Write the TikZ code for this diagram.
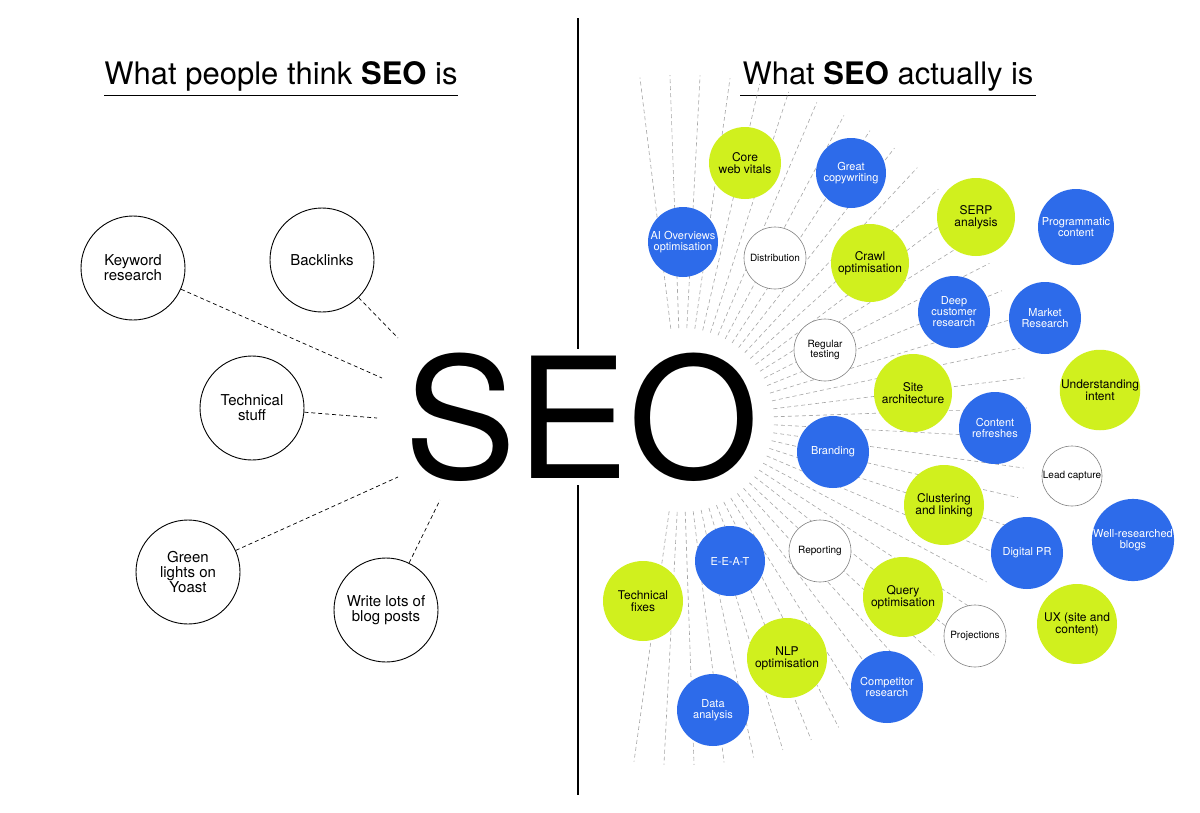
\documentclass[tikz,border=0pt]{standalone}
\usepackage{fontspec}
\usetikzlibrary{calc}
\setmainfont{TeX Gyre Heros}
\definecolor{bl}{HTML}{2D6BEA}
\definecolor{gr}{HTML}{D0F01E}
\tikzset{
 lc/.style={circle,draw=black,line width=0.9pt,fill=white,minimum size=104pt,inner sep=0,align=center,font=\fontsize{15}{15}\selectfont},
 bc/.style={circle,fill=bl,text=white,inner sep=0,align=center,font=\fontsize{11}{11}\selectfont},
 gc/.style={circle,fill=gr,text=black,inner sep=0,align=center,font=\fontsize{12}{12}\selectfont},
 wc/.style={circle,draw=gray,line width=0.6pt,fill=white,inner sep=0,align=center,font=\fontsize{10}{10}\selectfont},
 dl/.style={dashed,line width=0.7pt,dash pattern=on 4pt off 3pt},
 ray/.style={dashed,gray!70,line width=0.6pt,dash pattern=on 4pt off 3pt},
}
\begin{document}
\begin{tikzpicture}[x=1pt,y=-1pt]
\useasboundingbox (0,0) rectangle (1200,812);
\fill[white] (0,0) rectangle (1200,812);
\draw[line width=1.2pt] (578,18) -- (578,795);
\node[font=\fontsize{31}{31}\selectfont] (t1) at (281,76) {What people think \textbf{SEO} is};
\draw[line width=1pt] (104,95) -- (458,95);
\node[font=\fontsize{31}{31}\selectfont] (t2) at (888,76) {What \textbf{SEO} actually is};
\draw[line width=1pt] (740,95) -- (1036,95);
\node[fill=white,inner sep=4pt] (seo) at (582,417) {\fontsize{168}{168}\selectfont SEO};
% left
\node[lc] (k) at (133,268) {Keyword\\research};
\node[lc] (b) at (322,260) {Backlinks};
\node[lc] (t) at (252,408) {Technical\\stuff};
\node[lc] (g) at (188,572) {Green\\lights on\\Yoast};
\node[lc] (w) at (386,610) {Write lots of\\blog posts};
\coordinate (ek) at (382,378); \coordinate (eb) at (398,338);
\coordinate (et) at (377,418); \coordinate (eg) at (398,477); \coordinate (ew) at (440,500);
\draw[dl] (k) -- (ek); \draw[dl] (b) -- (eb); \draw[dl] (t) -- (et);
\draw[dl] (g) -- (eg); \draw[dl] (w) -- (ew);
% rays
\coordinate (c) at (682,420);
\foreach \a in {-98,-93,...,100} {
  \draw[ray] ($(c)+(\a:92pt)$) -- ($(c)+(\a:345pt)$);
}
% right
\node[gc,minimum size=72pt] (n1) at (745,163) {Core\\web vitals};
\node[bc,minimum size=70pt] (n2) at (851,173) {Great\\copywriting};
\node[bc,minimum size=70pt] (n3) at (683,242) {AI Overviews\\optimisation};
\node[wc,minimum size=62pt] (n4) at (775,258) {Distribution};
\node[gc,minimum size=78pt] (n5) at (870,263) {Crawl\\optimisation};
\node[gc,minimum size=78pt] (n6) at (976,217) {SERP\\analysis};
\node[bc,minimum size=76pt] (n7) at (1076,227) {Programmatic\\content};
\node[bc,minimum size=72pt] (n8) at (954,312) {Deep\\customer\\research};
\node[bc,minimum size=72pt] (n9) at (1045,318) {Market\\Research};
\node[wc,minimum size=62pt] (n10) at (825,350) {Regular\\testing};
\node[gc,minimum size=78pt] (n11) at (913,393) {Site\\architecture};
\node[gc,minimum size=80pt] (n12) at (1100,390) {Understanding\\intent};
\node[bc,minimum size=72pt] (n13) at (995,428) {Content\\refreshes};
\node[bc,minimum size=72pt] (n14) at (833,452) {Branding};
\node[wc,minimum size=60pt] (n15) at (1072,476) {Lead capture};
\node[gc,minimum size=80pt] (n16) at (944,505) {Clustering\\and linking};
\node[bc,minimum size=72pt] (n17) at (1133,540) {Well-researched\\blogs};
\node[bc,minimum size=72pt] (n18) at (1027,553) {Digital PR};
\node[wc,minimum size=62pt] (n19) at (820,551) {Reporting};
\node[bc,minimum size=70pt] (n20) at (730,561) {E-E-A-T};
\node[gc,minimum size=80pt] (n21) at (643,601) {Technical\\fixes};
\node[gc,minimum size=80pt] (n22) at (903,597) {Query\\optimisation};
\node[wc,minimum size=62pt] (n23) at (975,636) {Projections};
\node[gc,minimum size=80pt] (n24) at (1077,624) {UX (site and\\content)};
\node[gc,minimum size=80pt] (n25) at (787,658) {NLP\\optimisation};
\node[bc,minimum size=72pt] (n26) at (887,687) {Competitor\\research};
\node[bc,minimum size=72pt] (n27) at (713,710) {Data\\analysis};
\end{tikzpicture}
\end{document}
